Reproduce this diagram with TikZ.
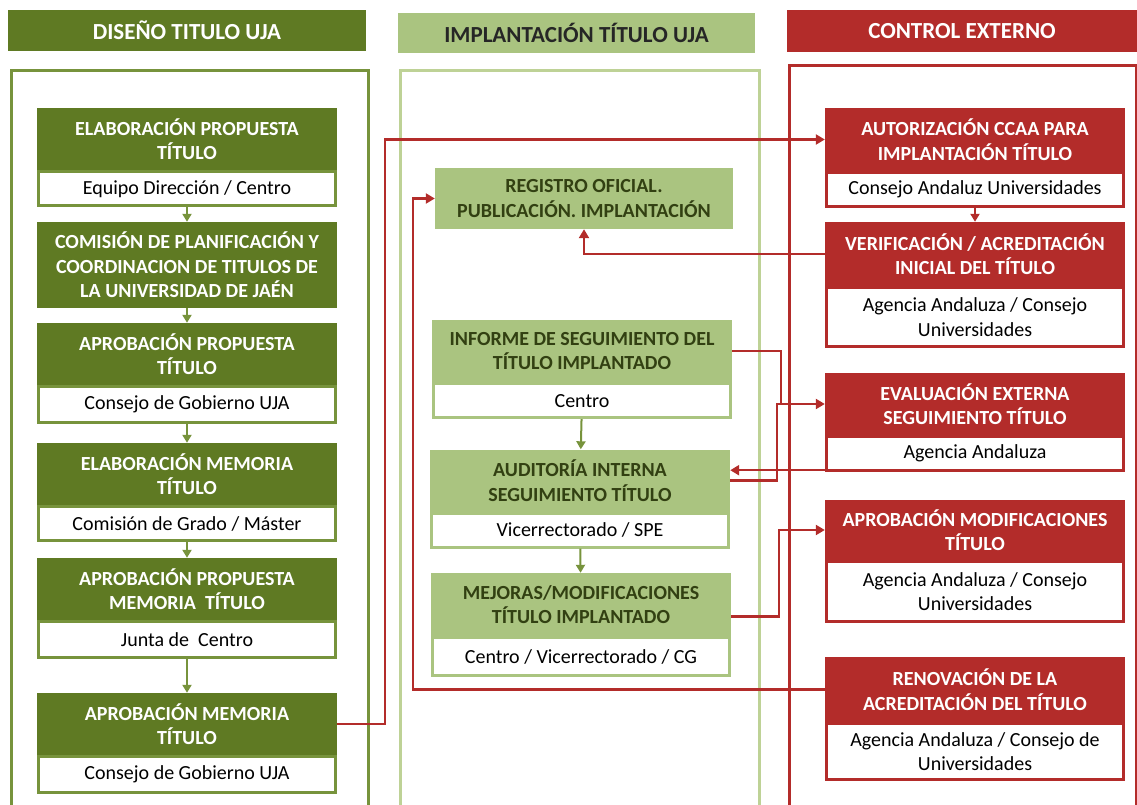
\documentclass[tikz,border=0pt]{standalone}
\usepackage{fontspec}
\setmainfont{Carlito}
\usetikzlibrary{calc,positioning,arrows.meta}
\definecolor{ujadark}{RGB}{95,122,35}
\definecolor{ujaframe}{RGB}{119,147,60}
\definecolor{ujalight}{RGB}{170,196,128}
\definecolor{ujalightframe}{RGB}{190,210,150}
\definecolor{ujatext}{RGB}{50,64,18}
\definecolor{ujared}{RGB}{179,44,42}
\tikzset{%
    header/.style={%
        rectangle, minimum height=41pt, text centered, inner sep=0pt,
        font=\fontsize{23}{26}\selectfont\bfseries
    },
    column/.style={%
        rectangle, line width=3pt, anchor=north west, inner sep=0pt
    },
    title_box/.style={%
        rectangle, minimum width=300pt, minimum height=62pt, align=center, inner sep=0pt,
        font=\fontsize{20}{24.5}\selectfont\bfseries
    },
    sub_box/.style={%
        rectangle, draw, line width=3pt, fill=white, minimum width=297pt, minimum height=34pt,
        align=center, inner sep=0pt, below=0pt of #1, font=\fontsize{20}{24.5}\selectfont
    },
    dis_title/.style={%
        title_box, fill=ujadark, text=white
    },
    imp_title/.style={%
        title_box, fill=ujalight, text=ujatext
    },
    ctl_title/.style={%
        title_box, fill=ujared, text=white
    },
    flow/.style={%
        -{Triangle[length=8pt,width=9pt]}, line width=2pt, draw=ujaframe
    },
    link/.style={%
        line width=2.4pt, draw=ujared
    },
    linkarrow/.style={%
        link, -{Triangle[length=9pt,width=10pt]}
    },
}
\begin{document}
\begin{tikzpicture}[x=1pt,y=-1pt]
  \useasboundingbox (0,0) rectangle (1137,805);
  \node[column, draw=ujaframe, minimum width=357pt, minimum height=760pt] (disframe) at (10,69) {};
  \node[column, draw=ujalightframe, minimum width=359pt, minimum height=760pt] (impframe) at (399,69) {};
  \node[column, draw=ujared, minimum width=347pt, minimum height=760pt] (ctlframe) at (788,64) {};

  \node[header, fill=ujadark, text=white, minimum width=358pt] (dishead) at (187,30.5) {DISEÑO TITULO UJA};
  \node[header, fill=ujalight, text=black!85, minimum width=357pt, minimum height=40pt] (imphead) at (576.5,33) {IMPLANTACIÓN TÍTULO UJA};
  \node[header, fill=ujared, text=white, minimum width=350pt, minimum height=42pt] (ctlhead) at (962,31) {CONTROL EXTERNO};

  \node[dis_title] (elab) at (187,139) {ELABORACIÓN PROPUESTA\\TÍTULO};
  \node[sub_box=elab, draw=ujaframe] (elab_s) {Equipo Dirección / Centro};
  \node[dis_title, minimum height=86pt] (comis) at (187,265) {COMISIÓN DE PLANIFICACIÓN Y\\COORDINACION DE TITULOS DE\\LA UNIVERSIDAD DE JAÉN};
  \node[dis_title] (aprob) at (187,354) {APROBACIÓN PROPUESTA\\TÍTULO};
  \node[sub_box=aprob, draw=ujaframe, minimum height=36pt] (aprob_s) {Consejo de Gobierno UJA};
  \node[dis_title] (memo) at (187,474) {ELABORACIÓN MEMORIA\\TÍTULO};
  \node[sub_box=memo, draw=ujaframe] (memo_s) {Comisión de Grado / Máster};
  \node[dis_title] (apmemo) at (187,589) {APROBACIÓN PROPUESTA\\MEMORIA\ \ TÍTULO};
  \node[sub_box=apmemo, draw=ujaframe, minimum height=36pt] (apmemo_s) {Junta de\ \ Centro};
  \node[dis_title] (final) at (187,724) {APROBACIÓN MEMORIA\\TÍTULO};
  \node[sub_box=final, draw=ujaframe, minimum height=36pt] (final_s) {Consejo de Gobierno UJA};

  \node[imp_title, minimum height=61pt, minimum width=298pt] (reg) at (584,198.5) {REGISTRO OFICIAL.\\PUBLICACIÓN. IMPLANTACIÓN};
  \node[imp_title] (inf) at (582,351) {INFORME DE SEGUIMIENTO DEL\\TÍTULO IMPLANTADO};
  \node[sub_box=inf, draw=ujalight] (inf_s) {Centro};
  \node[imp_title] (aud) at (580,480.5) {AUDITORÍA INTERNA\\SEGUIMIENTO TÍTULO};
  \node[sub_box=aud, draw=ujalight] (aud_s) {Vicerrectorado / SPE};
  \node[imp_title, minimum height=63pt] (mej) at (581,604.5) {MEJORAS/MODIFICACIONES\\TÍTULO IMPLANTADO};
  \node[sub_box=mej, draw=ujalight, minimum height=38pt] (mej_s) {Centro / Vicerrectorado / CG};

  \node[ctl_title, minimum height=63pt] (aut) at (975,139.5) {AUTORIZACIÓN CCAA PARA\\IMPLANTACIÓN TÍTULO};
  \node[sub_box=aut, draw=ujared] (aut_s) {Consejo Andaluz Universidades};
  \node[ctl_title, minimum height=64pt] (ver) at (975,254) {VERIFICACIÓN / ACREDITACIÓN\\INICIAL DEL TÍTULO};
  \node[sub_box=ver, draw=ujared, minimum height=59pt] (ver_s) {Agencia Andaluza / Consejo\\Universidades};
  \node[ctl_title] (eva) at (975,404) {EVALUACIÓN EXTERNA\\SEGUIMIENTO TÍTULO};
  \node[sub_box=eva, draw=ujared] (eva_s) {Agencia Andaluza};
  \node[ctl_title, minimum height=60pt] (apm) at (975,530) {APROBACIÓN MODIFICACIONES\\TÍTULO};
  \node[sub_box=apm, draw=ujared, minimum height=60pt] (apm_s) {Agencia Andaluza / Consejo\\Universidades};
  \node[ctl_title, minimum height=65pt] (ren) at (975,689.5) {RENOVACIÓN DE LA\\ACREDITACIÓN DEL TÍTULO};
  \node[sub_box=ren, draw=ujared, minimum height=56pt] (ren_s) {Agencia Andaluza / Consejo de\\Universidades};

  \draw[flow] (elab_s) -- (comis);
  \draw[flow] (comis) -- (aprob);
  \draw[flow] (aprob_s) -- (memo);
  \draw[flow] (memo_s) -- (apmemo);
  \draw[flow] (apmemo_s) -- (final);
  \draw[flow] (inf_s) -- (aud);
  \draw[flow] (aud_s) -- (mej);
  \draw[flow, draw=ujared] (aut_s) -- (ver);

  \draw[linkarrow] (final.east) -- ++(48,0) |- (aut.west);
  \draw[linkarrow] (ver.west) -| (reg.south);
  \draw[linkarrow] (ren.west) -| ([xshift=-22pt]reg.west) -- (reg.west);
  \draw[linkarrow] (inf.east) -| ([xshift=-44pt]eva.west) -- (eva.west);
  \draw[link] (aud.east) -| ([xshift=-48pt]eva.west) -- ([xshift=-44pt]eva.west);
  \draw[linkarrow] ([yshift=2pt]eva_s.south west) -- ([yshift=2pt]eva_s.south west -| aud.east);
  \draw[linkarrow] ([yshift=-12pt]mej.east) -| ([xshift=-46pt]apm.west) -- (apm.west);
\end{tikzpicture}
\end{document}
